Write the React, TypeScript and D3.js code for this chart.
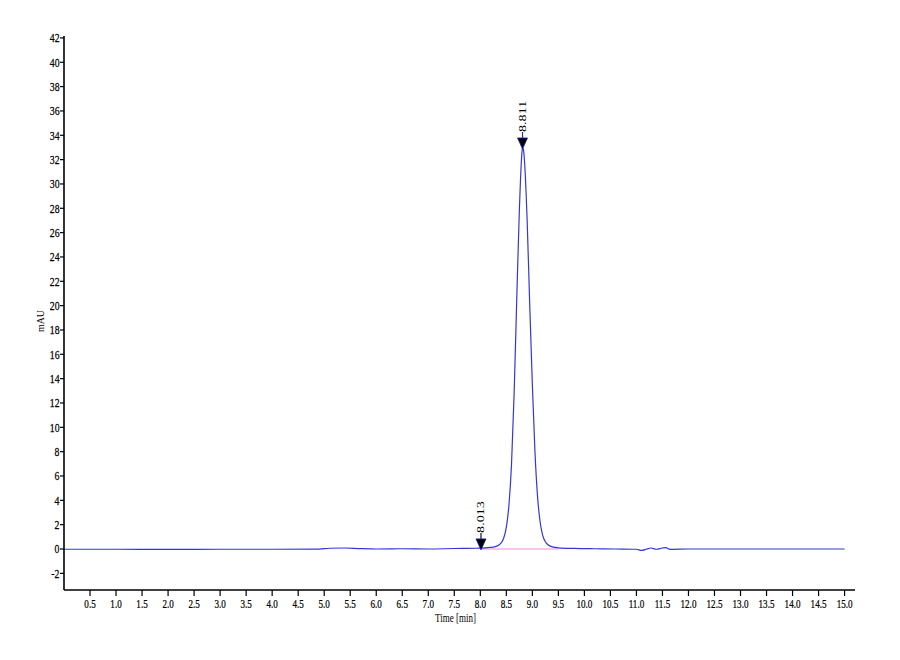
import React from 'react';
import * as d3 from 'd3';

// chromatogram trace: [time (min), signal (mAU)]
const trace: [number, number][] = [
  [0, -0.02], [1, -0.02], [2, -0.03], [3, -0.02], [4, -0.02], [4.9, -0.01],
  [5.1, 0.06], [5.4, 0.08], [5.7, 0.03], [6.0, 0.0], [6.5, 0.02], [7.0, 0.0],
  [7.5, 0.04], [7.9, 0.06], [8.1, 0.1], [8.25, 0.15], [8.35, 0.3], [8.4, 0.5],
  [8.45, 0.9], [8.5, 1.8], [8.55, 3.6], [8.6, 7.0], [8.65, 12.8], [8.7, 20.5],
  [8.75, 27.8], [8.8, 32.6], [8.811, 33.0], [8.83, 32.8], [8.85, 31.8], [8.9, 27.0],
  [8.95, 20.0], [9.0, 13.5], [9.05, 8.0], [9.1, 4.3], [9.15, 2.2], [9.2, 1.1],
  [9.25, 0.6], [9.3, 0.35], [9.4, 0.15], [9.5, 0.1], [9.8, 0.05], [10.2, 0.02],
  [10.6, 0.0], [11.0, -0.02], [11.1, -0.12], [11.2, 0.0], [11.28, 0.08],
  [11.38, -0.02], [11.5, 0.08], [11.56, 0.12], [11.65, -0.03], [12.0, 0.0],
  [13.0, 0.0], [14.0, 0.0], [15.0, 0.0],
];

// integration baseline (pink)
const baselineStart = 8.0;
const baselineEnd = 9.5;

// peak markers
const peakTimes = [8.013, 8.811];
const peakLabels = ['8.013', '8.811'];
const peakValues = [0.05, 33.0];
const stemColors = ['#111', '#2a2ad0'];

const xTickValues = [
  0.5, 1.0, 1.5, 2.0, 2.5, 3.0, 3.5, 4.0, 4.5, 5.0, 5.5, 6.0, 6.5, 7.0, 7.5,
  8.0, 8.5, 9.0, 9.5, 10.0, 10.5, 11.0, 11.5, 12.0, 12.5, 13.0, 13.5, 14.0, 14.5, 15.0,
];
const yTickValues = [-2, 0, 2, 4, 6, 8, 10, 12, 14, 16, 18, 20, 22, 24, 26, 28, 30, 32, 34, 36, 38, 40, 42];

const xLabel = 'Time [min]';
const yLabel = 'mAU';

const width = 900;
const height = 660;
const left = 64;
const right = 855;
const top = 36;
const bottom = 590;

const font = '"Liberation Serif", "Times New Roman", serif';

const App: React.FC = () => {
  const x = d3.scaleLinear().domain([0, 15.2]).range([left, right]);
  const y = d3.scaleLinear().domain([-3.37, 42.16]).range([bottom, top]);

  const line = d3.line<[number, number]>()
    .x(d => x(d[0]))
    .y(d => y(d[1]))
    .curve(d3.curveMonotoneX);

  return (
    <svg width={width} height={height} style={{ position: 'absolute', left: 0, top: 0, background: '#fff' }}>
      {/* integration baseline */}
      <line x1={x(baselineStart)} x2={x(baselineEnd)} y1={y(0)} y2={y(0)} stroke="#f08ad8" strokeWidth={1.2} />

      {/* trace */}
      <path d={line(trace) || ''} fill="none" stroke="#3636d6" strokeWidth={1.2} />

      {/* peak markers */}
      {peakTimes.map((t, i) => {
        const px = x(t);
        const tip = y(peakValues[i]) + 1.5;
        const triTop = tip - 11;
        return (
          <g key={t}>
            <line x1={px} x2={px} y1={triTop - 6} y2={triTop} stroke={stemColors[i]} strokeWidth={1.2} />
            <path d={`M${px - 5},${triTop} L${px + 5},${triTop} L${px},${tip} Z`} fill="#000" stroke="#2020c0" strokeWidth={0.8} />
            <text
              transform={`translate(${px + 3.5},${triTop - 6}) rotate(-90) scale(1.28,1)`}
              fontFamily={font}
              fontSize={11}
              fill="#000"
            >
              {peakLabels[i]}
            </text>
          </g>
        );
      })}

      {/* y axis */}
      <line x1={left} x2={left} y1={top} y2={bottom} stroke="#000" strokeWidth={1.6} />
      {yTickValues.map(v => (
        <g key={v}>
          <line x1={left - 4} x2={left} y1={y(v)} y2={y(v)} stroke="#000" strokeWidth={1.2} />
          <text
            transform={`translate(${left - 4.5},${y(v) + 4.5}) scale(0.75,1)`}
            textAnchor="end"
            fontFamily={font}
            fontSize={13}
            fill="#000"
            stroke="#000"
            strokeWidth={0.25}
          >
            {v}
          </text>
        </g>
      ))}

      {/* x axis */}
      <line x1={left} x2={right} y1={bottom} y2={bottom} stroke="#000" strokeWidth={1.6} />
      {xTickValues.map(v => (
        <g key={v}>
          <line x1={x(v)} x2={x(v)} y1={bottom} y2={bottom + 6} stroke="#000" strokeWidth={1.2} />
          <text
            transform={`translate(${x(v)},${bottom + 18}) scale(0.7,1)`}
            textAnchor="middle"
            fontFamily={font}
            fontSize={13}
            fill="#000"
            stroke="#000"
            strokeWidth={0.25}
          >
            {v.toFixed(1)}
          </text>
        </g>
      ))}

      <text
        transform={`translate(${(left + right) / 2 - 4},${bottom + 32}) scale(0.72,1)`}
        textAnchor="middle"
        fontFamily={font}
        fontSize={12.5}
        fill="#000"
      >
        {xLabel}
      </text>
      <text
        transform={`translate(44,${(top + bottom) / 2 + 8}) rotate(-90) scale(0.9,1)`}
        textAnchor="middle"
        fontFamily={font}
        fontSize={11}
        fill="#000"
      >
        {yLabel}
      </text>
    </svg>
  );
};

export default App;
